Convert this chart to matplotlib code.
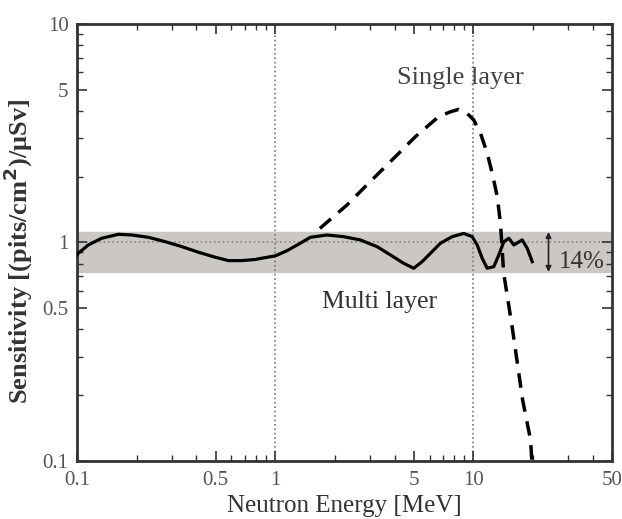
import matplotlib
matplotlib.use("Agg")
from matplotlib import pyplot as plt

plt.rcParams['font.family'] = ['Liberation Serif', 'DejaVu Serif']

# multi layer (solid)
multi_e = [0.1, 0.1015, 0.114, 0.133, 0.162, 0.189, 0.229, 0.278, 0.338, 0.410, 0.498,
           0.581, 0.679, 0.793, 0.873, 1.0, 1.146, 1.338, 1.503, 1.824, 2.213, 2.687,
           3.263, 3.81, 4.446, 4.995, 5.508, 6.065, 6.81, 7.80, 8.93, 9.85, 10.44,
           11.06, 11.73, 12.66, 13.42, 14.23, 15.08, 15.98, 17.62, 18.67, 19.79]
multi_s = [0.88, 0.892, 0.974, 1.045, 1.09, 1.082, 1.056, 1.009, 0.957, 0.902, 0.856,
           0.826, 0.826, 0.836, 0.850, 0.868, 0.917, 0.992, 1.056, 1.082, 1.063, 1.027,
           0.957, 0.877, 0.803, 0.762, 0.817, 0.892, 0.992, 1.063, 1.10, 1.063, 0.974,
           0.847, 0.762, 0.775, 0.877, 1.009, 1.045, 0.974, 1.027, 0.940, 0.817]

# single layer (dashed)
single_e = [1.68, 2.30, 2.96, 3.885, 5.094, 6.677, 7.65, 8.43, 9.29, 10.03, 10.85,
            11.73, 12.43, 13.18, 13.68, 14.2, 15.75, 17.7, 19.4, 19.7]
single_s = [1.16, 1.484, 1.869, 2.386, 3.05, 3.767, 3.963, 4.066, 3.897, 3.636, 3.16,
            2.56, 2.073, 1.621, 1.224, 0.725, 0.398, 0.19, 0.125, 0.1]

band_lo, band_hi = 0.733, 1.117
xticks = [0.1, 0.5, 1, 5, 10, 50]
xlabels = ['0.1', '0.5', '1', '5', '10', '50']
yticks = [0.1, 0.5, 1, 5, 10]
ylabels = ['0.1', '0.5', '1', '5', '10']

fig = plt.figure(figsize=(6.22, 5.19), dpi=100)
ax = fig.add_axes([0.1238, 0.1118, 0.8602, 0.842])
ax.set_xscale('log')
ax.set_yscale('log')
ax.set_xlim(0.1, 50)
ax.set_ylim(0.1, 10)

ax.axhspan(band_lo, band_hi, color='#cbc7c3', zorder=0)
ax.axhline(1, color='#888888', ls=':', lw=1.2, zorder=1)
ax.axvline(1, color='#777777', ls=':', lw=1.2, zorder=1)
ax.axvline(10, color='#777777', ls=':', lw=1.2, zorder=1)

ax.plot(multi_e, multi_s, color='black', lw=2.3, zorder=3)
ax.plot(single_e, single_s, color='black', lw=2.5, ls=(0, (4.2, 2.8)), zorder=3)

ax.annotate('', xy=(23.9, band_lo), xytext=(23.9, band_hi),
            arrowprops=dict(arrowstyle='<|-|>', color='#222222', lw=1.2,
                            mutation_scale=8, shrinkA=0, shrinkB=0))
ax.text(26.9, 0.814, '14%', fontsize=18, va='center', ha='left', color='#333333')
ax.text(4.1, 5.66, 'Single layer', fontsize=19, va='center', ha='left', color='#444444')
ax.text(1.73, 0.534, 'Multi layer', fontsize=18.5, va='center', ha='left', color='#333333')

ax.set_xticks(xticks)
ax.set_xticklabels(xlabels)
ax.set_yticks(yticks)
ax.set_yticklabels(ylabels)
ax.tick_params(which='both', direction='in', top=True, right=True,
               labelsize=15, labelcolor='#555555', color='#333333')
ax.tick_params(which='major', length=7, width=1.2)
ax.tick_params(which='minor', length=4, width=1.0)
ax.tick_params(axis='x', pad=7)
ax.tick_params(axis='y', pad=6)
for s in ax.spines.values():
    s.set_linewidth(2)
    s.set_color('#333333')

ax.set_xlabel('Neutron Energy [MeV]', fontsize=18, color='#333333')
ax.xaxis.set_label_coords(0.5, -0.079)
ax.set_ylabel('Sensitivity [(pits/cm$^\\mathbf{2}$)/μSv]', fontsize=19,
              fontweight='bold', color='#333333')
ax.yaxis.set_label_coords(-0.0785, 0.4805)

fig.savefig('out.png', dpi=100)
